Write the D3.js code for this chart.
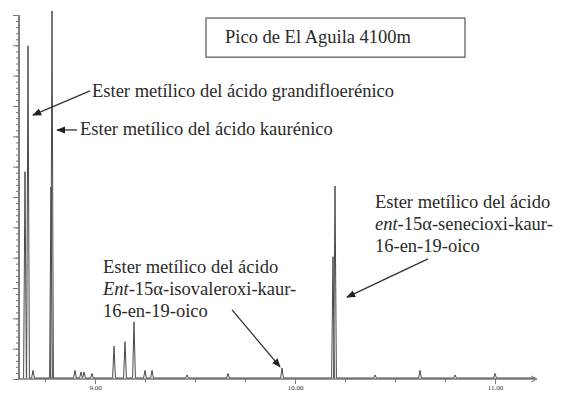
<!DOCTYPE html>
<html>
<head>
<meta charset="utf-8">
<script src="https://cdn.jsdelivr.net/npm/d3@7"></script>
<style>
  body { margin: 0; background: #fff; }
  text { font-family: "Liberation Serif", "Times New Roman", serif; fill: #2a2a2a; }
  .axis path, .axis line { stroke: #7a7a7a; }
</style>
</head>
<body>
<svg id="chart" width="567" height="394"></svg>
<script>
// retention time (min) and relative abundance of each peak
const peakTimes = [8.65, 8.665, 8.69, 8.78, 8.785, 8.90, 8.93, 8.945, 8.985, 9.095, 9.15, 9.195,
                   9.25, 9.285, 9.46, 9.665, 9.935, 10.19, 10.20, 10.40, 10.625, 10.80, 11.0];
const peakHeights = [6.8, 10.95, 0.25, 6.3, 12.1, 0.25, 0.2, 0.2, 0.15, 1.05, 1.2, 1.85,
                     0.25, 0.25, 0.1, 0.15, 0.33, 4.0, 6.33, 0.1, 0.25, 0.1, 0.15];
const xTickValues = [9, 10, 11];
const xTickLabels = ["9.00", "10.00", "11.00"];
const title = "Pico de El Aguila 4100m";

// annotation texts; italic parts marked with {}
const labelGrandi = ["Ester metílico del ácido grandifloerénico"];
const labelKaur = ["Ester metílico del ácido kaurénico"];
const labelIsoval = ["Ester metílico del ácido", "{Ent}-15α-isovaleroxi-kaur-", "16-en-19-oico"];
const labelSenec = ["Ester metílico del ácido", "{ent}-15α-senecioxi-kaur-", "16-en-19-oico"];

const svg = d3.select("#chart");
const width = 567;

const x = d3.scaleLinear().domain([8.62, 11.21]).range([19, 537]);
const y = d3.scaleLinear().domain([0, 12]).range([379, 15]);

const defs = svg.append("defs");
defs.append("marker")
    .attr("id", "head")
    .attr("viewBox", "0 0 10 10")
    .attr("refX", 9).attr("refY", 5)
    .attr("markerWidth", 9).attr("markerHeight", 9)
    .attr("markerUnits", "userSpaceOnUse")
    .attr("orient", "auto")
    .append("path")
    .attr("d", "M0,1 L10,5 L0,9 Z")
    .attr("fill", "#222");

// axes
const yAxisG = svg.append("g").attr("class", "axis").attr("transform", "translate(" + x(8.62) + ",0)");
yAxisG.call(d3.axisLeft(y).tickValues(d3.range(0, 12.01, 0.2)).tickSize(3).tickFormat(""));
yAxisG.append("g").call(d3.axisLeft(y).tickValues(d3.range(0, 13, 1)).tickSize(6).tickFormat(""));
yAxisG.selectAll("path").attr("stroke-width", 1.6);
yAxisG.selectAll(".domain").attr("d", "M0," + y(12) + "V" + y(0));

const xAxisG = svg.append("g").attr("class", "axis").attr("transform", "translate(0," + y(0) + ")");
xAxisG.call(d3.axisBottom(x).tickValues(d3.range(8.75, 11.2, 0.25)).tickSize(3).tickFormat(""));
xAxisG.selectAll(".domain").attr("stroke-width", 1.6).attr("d", "M" + x(8.62) + ",0H" + x(11.21));
const majorX = xAxisG.append("g").call(d3.axisBottom(x).tickValues(xTickValues).tickSize(5)
    .tickFormat((d, i) => xTickLabels[i]));
majorX.select(".domain").remove();
majorX.selectAll("text").attr("font-size", 7).attr("fill", "#555").attr("dy", "0.4em");
xAxisG.append("path")
    .attr("d", "M" + (x(11.21) - 6) + ",-3 L" + x(11.21) + ",0 L" + (x(11.21) - 6) + ",3")
    .attr("fill", "none").attr("stroke", "#7a7a7a");

// chromatogram trace built from the peak list
const peaks = peakTimes.map((t, i) => ({t: t, h: peakHeights[i]})).sort((a, b) => a.t - b.t);
const halfWidth = 0.007;
const tracePts = [[8.64, 0]];
peaks.forEach(p => {
    tracePts.push([p.t - halfWidth, 0], [p.t, p.h], [p.t + halfWidth, 0]);
});
tracePts.push([11.2, 0]);
svg.append("path")
    .attr("d", d3.line().x(d => x(d[0])).y(d => y(d[1]) - 1)(tracePts))
    .attr("fill", "none")
    .attr("stroke", "#4a4a4a")
    .attr("stroke-width", 1);

// title box
const boxG = svg.append("g");
boxG.append("rect")
    .attr("x", x(9.555)).attr("y", y(11.9))
    .attr("width", x(10.85) - x(9.555)).attr("height", y(10.61) - y(11.9))
    .attr("fill", "none").attr("stroke", "#555").attr("stroke-width", 1.2);
boxG.append("text")
    .attr("x", x(9.65)).attr("y", y(11.07))
    .attr("font-size", 18.5)
    .text(title);

// annotations: text anchor and arrow, in data units
function addLabel(lines, t, h, step) {
    const txt = svg.append("text").attr("font-size", 18.5);
    lines.forEach((line, i) => {
        const ln = txt.append("tspan").attr("x", x(t)).attr("y", y(h) + i * step);
        line.split(/(\{[^}]*\})/).filter(s => s.length).forEach(part => {
            const sp = ln.append("tspan");
            if (part[0] === "{") sp.attr("font-style", "italic").text(part.slice(1, -1));
            else sp.text(part);
        });
    });
}
function addArrow(t0, h0, t1, h1) {
    svg.append("line")
        .attr("x1", x(t0)).attr("y1", y(h0))
        .attr("x2", x(t1)).attr("y2", y(h1))
        .attr("stroke", "#333").attr("stroke-width", 1.3)
        .attr("marker-end", "url(#head)");
}

addLabel(labelGrandi, 8.985, 9.3, 22);
addArrow(8.975, 9.5, 8.69, 8.7);
addLabel(labelKaur, 8.925, 8.04, 22);
addArrow(8.91, 8.21, 8.81, 8.21);
addLabel(labelIsoval, 9.04, 3.5, 22);
addArrow(9.685, 2.28, 9.925, 0.4);
addLabel(labelSenec, 10.4, 5.64, 22);
addArrow(10.665, 3.96, 10.26, 2.7);
</script>
</body>
</html>
